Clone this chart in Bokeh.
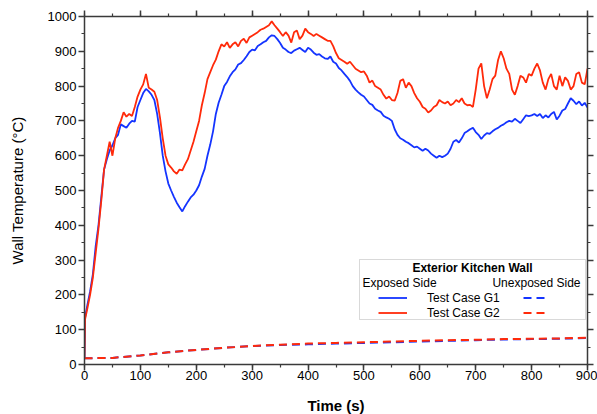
from bokeh.plotting import figure
from bokeh.models import (Range1d, LinearAxis, SingleIntervalTicker, BoxAnnotation,
                          Label, Legend, LegendItem, CustomJSTickFormatter)
from bokeh.embed import file_html
from bokeh.resources import INLINE

# ---------------- data ----------------
time_exposed = [0, 1] + list(range(5, 901, 5))

g1_exposed = [
    20, 135,
    170, 210, 260, 340, 400, 480, 560, 590, 615, 630,
    650, 660, 690, 685, 680, 692, 700, 698, 740, 760,
    780, 792, 785, 775, 760, 720, 665, 600, 555, 520,
    500, 482, 465, 452, 440, 455, 468, 480, 488, 500,
    515, 540, 562, 600, 632, 670, 720, 752, 775, 800,
    812, 828, 840, 848, 862, 866, 875, 886, 898, 905,
    903, 915, 920, 926, 930, 940, 946, 944, 935, 924,
    910, 905, 898, 895, 902, 906, 910, 904, 898, 910,
    905, 896, 890, 892, 885, 880, 878, 885, 870, 865,
    852, 845, 835, 826, 815, 800, 790, 782, 775, 770,
    760, 750, 746, 735, 730, 726, 715, 710, 706, 700,
    676, 660, 650, 646, 640, 636, 630, 624, 626, 620,
    614, 620, 615, 606, 600, 594, 600, 596, 600, 606,
    620, 640, 645, 638, 650, 665, 670, 676, 680, 668,
    660, 648, 658, 665, 663, 670, 676, 680, 686, 690,
    696, 700, 698, 706, 700, 694, 705, 716, 714, 716,
    720, 714, 720, 708, 716, 710, 720, 726, 704, 715,
    730, 734, 750, 765, 758, 748, 756, 744, 752, 738,
]

g2_exposed = [
    20, 130,
    160, 200, 250, 320, 390, 470, 560, 600, 640, 600,
    650, 680, 700, 725, 712, 720, 714, 740, 770, 790,
    805, 835, 795, 790, 784, 760, 710, 650, 600, 575,
    566, 555, 548, 560, 558, 575, 590, 615, 640, 670,
    700, 745, 780, 820, 840, 860, 876, 900, 920, 914,
    926, 910, 920, 926, 914, 930, 936, 924, 940, 945,
    950, 955, 962, 965, 970, 975, 986, 975, 965, 955,
    944, 955, 945, 925, 955, 960, 935, 945, 965, 955,
    950, 944, 950, 945, 940, 935, 930, 930, 915, 895,
    880, 875, 870, 864, 870, 860, 850, 845, 840, 842,
    830, 810, 816, 800, 795, 790, 775, 764, 770, 760,
    758, 780, 815, 820, 795, 810, 800, 780, 765, 755,
    740, 735, 724, 730, 740, 745, 760, 754, 750, 756,
    745, 750, 760, 754, 765, 750, 745, 746, 740, 790,
    850, 865, 800, 765, 790, 820, 830, 875, 900, 880,
    850, 835, 790, 775, 800, 830, 825, 810, 835, 830,
    850, 865, 845, 810, 790, 820, 835, 800, 790, 830,
    800, 825, 815, 790, 800, 835, 840, 810, 805, 850,
]

time_unexposed = list(range(0, 901, 50))
g1_unexposed = [18, 19, 26, 35, 42, 48, 53, 56, 58, 60, 62, 64, 66, 68, 70, 72, 73, 74, 76]
g2_unexposed = [18, 19, 26, 35, 42, 48, 53, 57, 60, 62, 64, 66, 68, 70, 71, 73, 74, 75, 77]

x_ticks_interval = 100
y_ticks_interval = 100

BLUE = "#1434ff"
RED = "#ff2a0a"
FONT = "Liberation Sans"
AXIS = "#3a3a3a"

p = figure(frame_width=503, frame_height=348,
           min_border_left=84, min_border_right=10, min_border_top=16, min_border_bottom=50,
           x_range=Range1d(0, 900), y_range=Range1d(0, 1000),
           output_backend="svg", toolbar_location=None,
           x_axis_label="Time (s)", y_axis_label="Wall Temperature (°C)")
p.grid.visible = False
p.outline_line_color = None
p.background_fill_color = "white"
p.border_fill_color = "white"


def style_axis(ax, interval):
    ax.ticker = SingleIntervalTicker(interval=interval, num_minor_ticks=2)
    ax.axis_line_color = AXIS
    ax.axis_line_width = 1.5
    ax.major_tick_line_color = AXIS
    ax.major_tick_line_width = 1.5
    ax.minor_tick_line_color = AXIS
    ax.minor_tick_line_width = 1.2
    ax.major_tick_out = 6
    ax.major_tick_in = 0
    ax.minor_tick_out = 3
    ax.minor_tick_in = 0
    ax.major_label_text_font = FONT
    ax.major_label_text_font_size = "13px"
    ax.major_label_text_color = "black"


xa = p.xaxis[0]
ya = p.yaxis[0]
style_axis(xa, x_ticks_interval)
style_axis(ya, y_ticks_interval)
xa.major_label_standoff = 0
xa.axis_label_standoff = 14
xa.axis_label_text_font = FONT
xa.axis_label_text_font_size = "15px"
xa.axis_label_text_font_style = "bold"
xa.axis_label_text_color = "black"
ya.major_label_standoff = 2
ya.axis_label_standoff = 19
ya.axis_label_text_font = FONT
ya.axis_label_text_font_size = "15px"
ya.axis_label_text_font_style = "normal"
ya.axis_label_text_color = "black"

blank = CustomJSTickFormatter(code="return ''")
top = LinearAxis(formatter=blank, major_label_standoff=0)
style_axis(top, x_ticks_interval)
right = LinearAxis(formatter=blank, major_label_standoff=0)
style_axis(right, y_ticks_interval)
p.add_layout(top, "above")
p.add_layout(right, "right")

d1 = p.line(time_unexposed, g1_unexposed, line_color=BLUE, line_width=2, line_dash="8 5")
d2 = p.line(time_unexposed, g2_unexposed, line_color=RED, line_width=2, line_dash="8 5")
r1 = p.line(time_exposed, g1_exposed, line_color=BLUE, line_width=1.8)
r2 = p.line(time_exposed, g2_exposed, line_color=RED, line_width=1.8)

# ---------------- legend block ----------------
box = BoxAnnotation(left=275, right=501, top=105, bottom=45,
                    left_units="screen", right_units="screen",
                    top_units="screen", bottom_units="screen",
                    fill_color="white", fill_alpha=1.0,
                    line_color="#808080", line_width=1)
p.add_layout(box)

p.add_layout(Label(x=388, y=97, x_units="screen", y_units="screen",
                   text="Exterior Kitchen Wall", text_align="center", text_baseline="middle",
                   text_font=FONT, text_font_size="12px", text_font_style="bold",
                   text_color="black"))
p.add_layout(Label(x=278, y=81.5, x_units="screen", y_units="screen",
                   text="Exposed Side", text_align="left", text_baseline="middle",
                   text_font=FONT, text_font_size="12px", text_color="black"))
p.add_layout(Label(x=496, y=81.5, x_units="screen", y_units="screen",
                   text="Unexposed Side", text_align="right", text_baseline="middle",
                   text_font=FONT, text_font_size="12px", text_color="black"))

common = dict(orientation="vertical", glyph_width=29, glyph_height=15, label_height=15,
              spacing=0, padding=0, margin=0, background_fill_alpha=0,
              border_line_color=None, label_text_font=FONT, label_text_font_size="12px",
              label_text_color="black")
leg1 = Legend(items=[LegendItem(label="Test Case G1", renderers=[r1]),
                     LegendItem(label="Test Case G2", renderers=[r2])],
              location=(294, 44), label_standoff=20, **common)
p.add_layout(leg1)
common2 = dict(common)
common2["glyph_width"] = 24
leg2 = Legend(items=[LegendItem(label=" ", renderers=[d1]),
                     LegendItem(label=" ", renderers=[d2])],
              location=(439, 44), label_standoff=0, **common2)
p.add_layout(leg2)

open("out.html", "w").write(file_html(p, INLINE))
